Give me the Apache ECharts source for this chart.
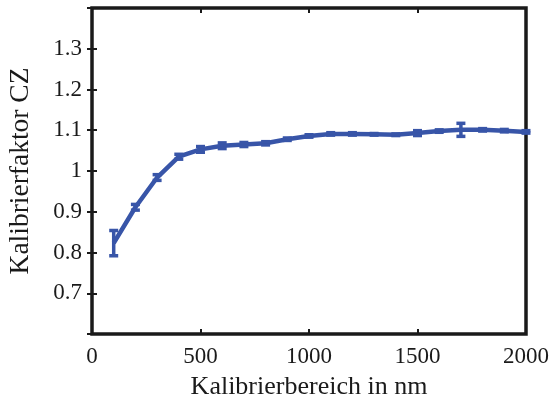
<!DOCTYPE html>
<html>
<head>
<meta charset="utf-8">
<script src="https://cdn.jsdelivr.net/npm/echarts@6/dist/echarts.min.js"></script>
<style>
  html, body { margin: 0; padding: 0; background: #fff; }
  #chart { width: 558px; height: 398px; }
</style>
</head>
<body>
<div id="chart"></div>
<script>
// Kalibrierbereich (nm) and Kalibrierfaktor CZ
const bereich = [100, 200, 300, 400, 500, 600, 700, 800, 900, 1000,
  1100, 1200, 1300, 1400, 1500, 1600, 1700, 1800, 1900, 2000]
const faktor = [0.823, 0.911, 0.984, 1.035, 1.053, 1.062, 1.065, 1.068, 1.078, 1.086,
  1.091, 1.091, 1.090, 1.089, 1.093, 1.098, 1.101, 1.101, 1.099, 1.096]
const fehler = [0.031, 0.007, 0.007, 0.006, 0.007, 0.007, 0.005, 0.004, 0.003, 0.003,
  0.003, 0.003, 0.002, 0.002, 0.006, 0.003, 0.016, 0.003, 0.003, 0.003]

const blue = "#3855a8"
const font = "Liberation Serif"
const textColor = "#1a1a1a"

const points = bereich.map((x, i) => [x, faktor[i]])
const errData = bereich.map((x, i) => [x, faktor[i] - fehler[i], faktor[i] + fehler[i]])

const chart = echarts.init(document.getElementById("chart"), null, { renderer: "canvas" })

const tickStyle = { show: true, inside: true, length: 5, lineStyle: { color: textColor, width: 2 } }

chart.setOption({
  animation: false,
  grid: {
    left: 92, right: 32, top: 8, bottom: 64,
    outerBoundsMode: "none",
    containLabel: false,
    show: true,
    borderColor: textColor,
    borderWidth: 3.5,
    backgroundColor: "#fff"
  },
  xAxis: [
    {
      type: "value",
      min: 0, max: 2000, interval: 500,
      position: "bottom",
      name: "Kalibrierbereich in nm",
      nameLocation: "middle",
      nameGap: 40,
      nameTextStyle: { fontFamily: font, fontSize: 26, color: textColor },
      axisLine: { show: false },
      axisTick: tickStyle,
      splitLine: { show: false },
      axisLabel: {
        fontFamily: font, fontSize: 23, color: textColor, margin: 11,
        formatter: (v) => String(v)
      }
    },
    {
      type: "value",
      min: 0, max: 2000, interval: 500,
      position: "top",
      axisLine: { show: false },
      axisTick: tickStyle,
      splitLine: { show: false },
      axisLabel: { show: false }
    }
  ],
  yAxis: [
    {
      type: "value",
      min: 0.6, max: 1.4, interval: 0.1,
      position: "left",
      name: "Kalibrierfaktor CZ",
      nameLocation: "middle",
      nameGap: 57,
      nameTextStyle: { fontFamily: font, fontSize: 27.5, color: textColor },
      axisLine: { show: false },
      axisTick: tickStyle,
      splitLine: { show: false },
      axisLabel: {
        fontFamily: font, fontSize: 23, color: textColor, margin: 10,
        showMinLabel: false, showMaxLabel: false,
        formatter: (v) => String(Math.round(v * 10) / 10)
      }
    },
    {
      type: "value",
      min: 0.6, max: 1.4, interval: 0.1,
      position: "right",
      axisLine: { show: false },
      axisTick: tickStyle,
      splitLine: { show: false },
      axisLabel: { show: false }
    }
  ],
  series: [
    {
      type: "line",
      data: points,
      symbol: "none",
      lineStyle: { color: blue, width: 4.5 },
      z: 3
    },
    {
      // error bars with caps
      type: "custom",
      data: errData,
      encode: { x: 0, y: [1, 2] },
      z: 4,
      renderItem: (params, api) => {
        const x = api.value(0)
        const lo = api.coord([x, api.value(1)])
        const hi = api.coord([x, api.value(2)])
        const half = 4.5
        const style = { stroke: blue, lineWidth: 3.5, fill: null }
        return {
          type: "group",
          children: [
            { type: "line", shape: { x1: lo[0], y1: lo[1], x2: hi[0], y2: hi[1] }, style },
            { type: "line", shape: { x1: lo[0] - half, y1: lo[1], x2: lo[0] + half, y2: lo[1] }, style },
            { type: "line", shape: { x1: hi[0] - half, y1: hi[1], x2: hi[0] + half, y2: hi[1] }, style }
          ]
        }
      }
    }
  ]
})
</script>
</body>
</html>
